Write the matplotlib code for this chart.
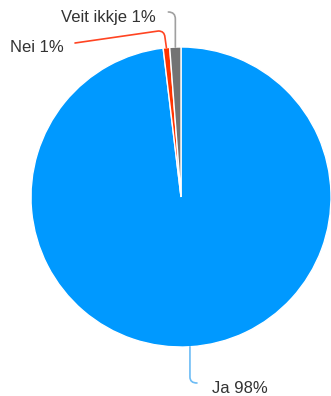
import matplotlib
matplotlib.use("Agg")
import matplotlib.pyplot as plt
import numpy as np
from matplotlib.path import Path
from matplotlib.patches import PathPatch

categories = ["Ja", "Nei", "Veit ikkje"]
values = [98.1, 0.7, 1.2]
labels = ["Ja 98%", "Nei 1%", "Veit ikkje 1%"]
colors = ["#0099ff", "#ff3300", "#737373"]
line_colors = ["#6cbcf5", "#ff4422", "#a0a0a0"]

W, H = 331, 396
fig = plt.figure(figsize=(W / 100, H / 100), dpi=100)
ax = fig.add_axes([0, 0, 1, 1])


def Y(py):
    return H - py


cx, cy, r = 181, Y(197), 150
wedges, _ = ax.pie(values, colors=colors, startangle=90, counterclock=False,
                   center=(cx, cy), radius=r, frame=True,
                   wedgeprops=dict(edgecolor="white", linewidth=1.0))
ax.set_xlim(0, W)
ax.set_ylim(0, H)
ax.set_aspect("auto")
ax.axis("off")

font = dict(family=["Liberation Sans", "DejaVu Sans"], fontsize=12, color="#333333")


def start_point(w):
    th = np.deg2rad((w.theta1 + w.theta2) / 2)
    return cx + r * np.cos(th), cy + r * np.sin(th)


def draw_path(verts, codes, color):
    ax.add_patch(PathPatch(Path(verts, codes), fill=False, edgecolor=color, lw=1.2,
                           capstyle="round", zorder=3))


# Ja leader
sx, sy = start_point(wedges[0])
draw_path([(sx, sy), (sx, Y(377)), (sx, Y(383)), (sx + 7, Y(383))],
          [Path.MOVETO, Path.LINETO, Path.CURVE3, Path.CURVE3], line_colors[0])
ax.text(212, Y(393), labels[0], ha="left", va="baseline", **font)

# Nei leader
sx, sy = start_point(wedges[1])
draw_path([(sx, sy), (sx - 1.5, Y(37)), (sx - 2, Y(31)), (sx - 8, Y(31)), (75, Y(43))],
          [Path.MOVETO, Path.LINETO, Path.CURVE3, Path.CURVE3, Path.LINETO], line_colors[1])
ax.text(10, Y(52), labels[1], ha="left", va="baseline", **font)

# Veit ikkje leader
sx, sy = start_point(wedges[2])
draw_path([(sx, sy), (sx, Y(19)), (sx, Y(12)), (sx - 7, Y(12))],
          [Path.MOVETO, Path.LINETO, Path.CURVE3, Path.CURVE3], line_colors[2])
ax.text(156, Y(22), labels[2], ha="right", va="baseline", **font)

fig.savefig("out.png", dpi=100)
